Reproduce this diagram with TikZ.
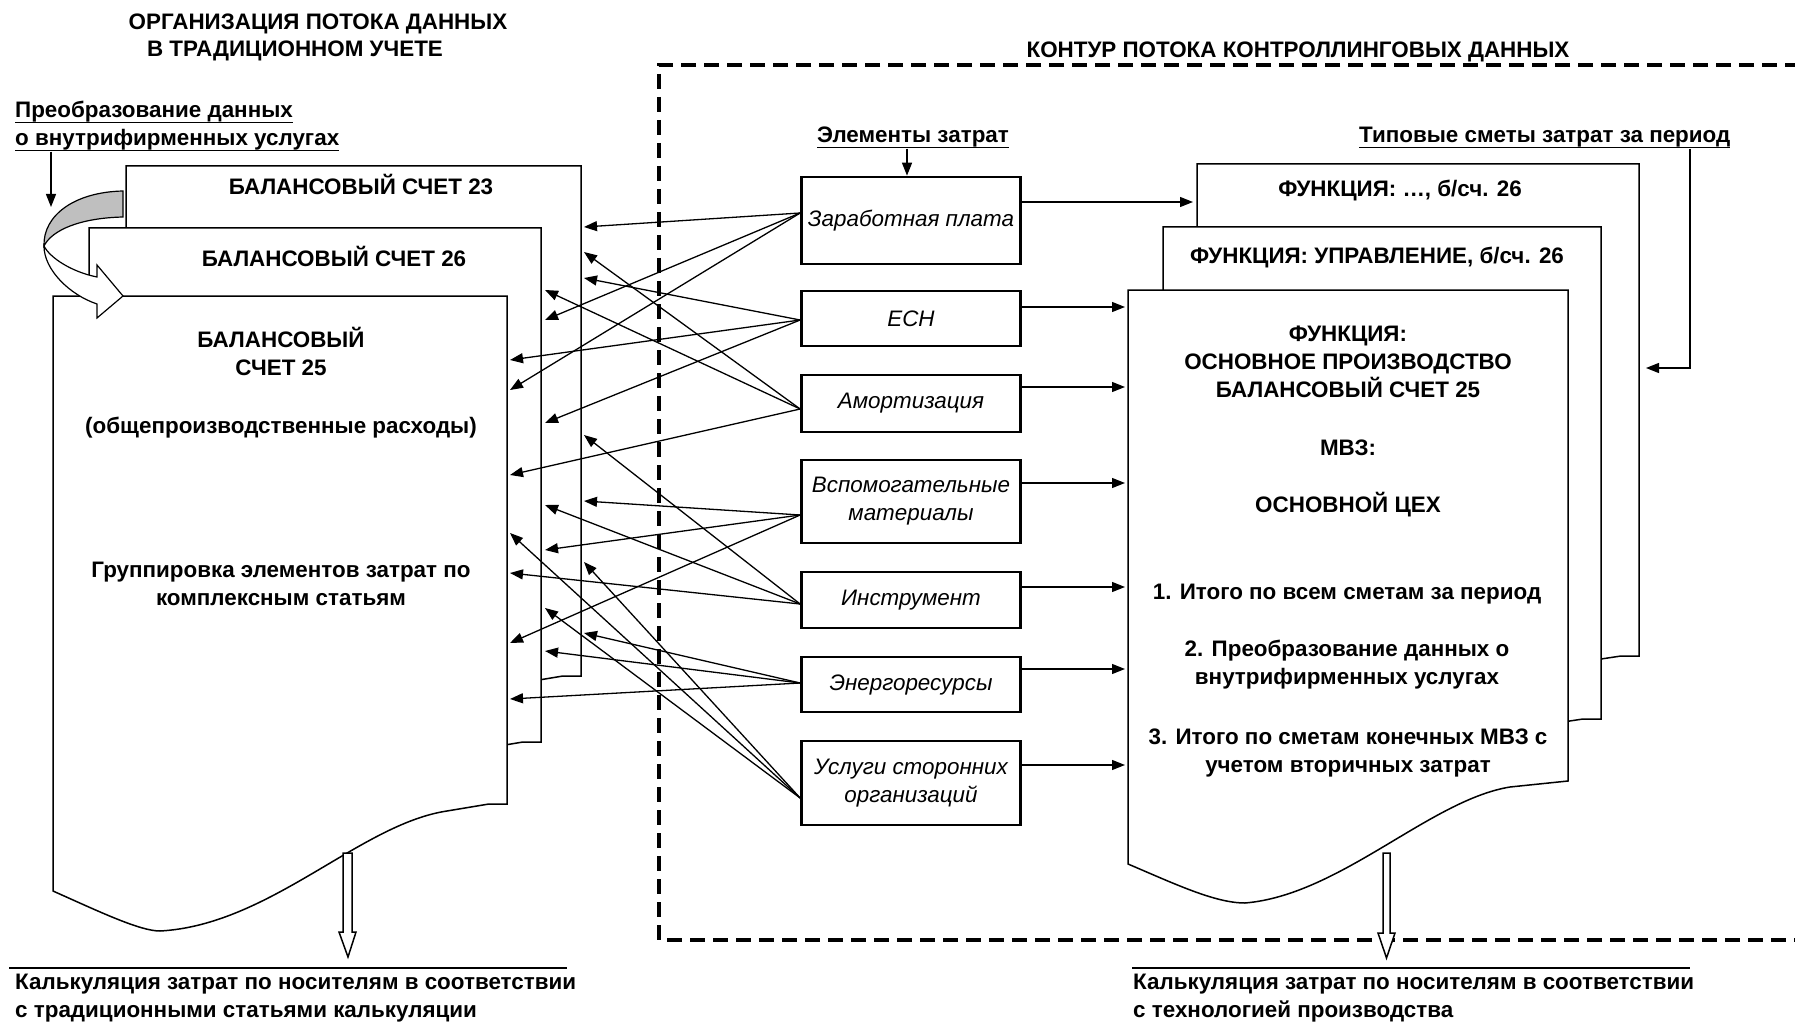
\documentclass[tikz,border=0pt]{standalone}
\usepackage{fontspec}
\setmainfont{Liberation Sans}
\usetikzlibrary{arrows.meta, calc, positioning}
\newsavebox{\ulbox}
\newcommand{\undl}[1]{\sbox{\ulbox}{#1}\rlap{\usebox{\ulbox}}\rule[-5.5pt]{\wd\ulbox}{1.8pt}}

\begin{document}
\begin{tikzpicture}[x=1pt, y=-1pt,
    >={Triangle[length=13pt, width=10pt]},
    node font=\fontsize{22.4}{28}\selectfont,
    doc/.style={draw, line width=1.5pt, fill=white},
    elbox/.style={draw, line width=2.7pt, minimum width=219pt, inner sep=0pt, align=center, font=\itshape},
    txt/.style={inner sep=0pt, align=center, font=\bfseries, anchor=base},
    conn/.style={->, line width=1.3pt},
    hollow/.style={draw, line width=1.5pt, fill=white},
    contour/.style={line width=3.6pt, dash pattern=on 15pt off 8pt}]
    \useasboundingbox (0,0) rectangle (1795,1024);

    % 1. Controlling contour and titles
    \draw[contour] (1800,65) -- (659,65) -- (659,940) -- (1800,940);
    \node[txt] (title1) at (318,30) {ОРГАНИЗАЦИЯ ПОТОКА ДАННЫХ};
    \node[txt] (title2) at (295,57) {В ТРАДИЦИОННОМ УЧЕТЕ};
    \node[txt] (kontur) at (1298,58) {КОНТУР ПОТОКА КОНТРОЛЛИНГОВЫХ ДАННЫХ};

    % 2. Traditional accounts (stacked documents)
    % account 23
    \draw[doc] (126,763) -- (126,166) -- (581,166) -- (581,676) -- (563,676) -- (521,683)
        .. controls (434,696) and (344,797) .. (234,803)
        .. controls (214,803) and (174,784) .. (126,763) -- cycle;
    % account 26
    \draw[doc] (89,829) -- (89,228) -- (541,228) -- (541,742) -- (523,742) -- (481,749)
        .. controls (394,762) and (304,863) .. (194,869)
        .. controls (174,869) and (134,850) .. (89,829) -- cycle;
    % account 25
    \draw[doc] (53,891) -- (53,296) -- (507,296) -- (507,804) -- (489,804) -- (447,811)
        .. controls (360,824) and (270,925) .. (160,931)
        .. controls (140,931) and (100,912) .. (53,891) -- cycle;
    \node[txt] (acc23) at (361,195) {БАЛАНСОВЫЙ СЧЕТ 23};
    \node[txt] (acc26) at (334,266) {БАЛАНСОВЫЙ СЧЕТ 26};
    \node[txt] (acc25) at (281,433) {БАЛАНСОВЫЙ\\СЧЕТ 25\\[30pt](общепроизводственные расходы)};
    \node[txt] (grp25) at (281,605) {Группировка элементов затрат по\\комплексным статьям};

    % curved arrow: internal services
    \filldraw[line width=1.2pt, fill=black!25] (123,191) .. controls (75,192) and (43,215) .. (44,246)
        .. controls (52,230) and (80,218) .. (123,217) -- cycle;
    \filldraw[line width=1.2pt, fill=white] (44,246) .. controls (44,270) and (70,295) .. (97,304)
        -- (97,318) -- (123,296) -- (97,265) -- (97,277)
        .. controls (72,272) and (50,258) .. (44,246) -- cycle;
    \node[txt, anchor=base west, align=left] (preob) at (15,146)
        {\undl{Преобразование данных}\\\undl{о внутрифирменных услугах}};
    \coordinate (twist) at (51,207);
    \draw[conn] (preob.south -| twist) -- (twist);

    % 3. Standard cost estimates (right documents)
    \draw[doc] (1197,737) -- (1197,164) -- (1639,164) -- (1639,656) -- (1621,656) -- (1581,662)
        .. controls (1496,675) and (1409,773) .. (1303,778)
        .. controls (1283,778) and (1244,759) .. (1197,737) -- cycle;
    \draw[doc] (1163,800) -- (1163,227) -- (1601,227) -- (1601,719) -- (1583,719) -- (1543,725)
        .. controls (1458,738) and (1371,836) .. (1265,841)
        .. controls (1245,841) and (1206,822) .. (1163,800) -- cycle;
    \draw[doc] (1128,864) -- (1128,290) -- (1568,290) -- (1568,781) -- (1510,787)
        .. controls (1430,800) and (1340,895) .. (1245,903)
        .. controls (1215,903) and (1175,884) .. (1128,864) -- cycle;
    \node[txt] (fnx) at (1400,197) {ФУНКЦИЯ: …, б/сч. 26};
    \node[txt] (fnupr) at (1377,263) {ФУНКЦИЯ: УПРАВЛЕНИЕ, б/сч. 26};
    \node[txt] (fnmain) at (1348,397) {ФУНКЦИЯ:\\ОСНОВНОЕ ПРОИЗВОДСТВО\\БАЛАНСОВЫЙ СЧЕТ 25};
    \node[txt] (mvz) at (1348,455) {МВЗ:};
    \node[txt] (ceh) at (1348,512) {ОСНОВНОЙ ЦЕХ};
    \node[txt] (sum1) at (1347,599) {1. Итого по всем сметам за период};
    \node[txt] (sum2) at (1347,684) {2. Преобразование данных о\\внутрифирменных услугах};
    \node[txt] (sum3) at (1348,772) {3. Итого по сметам конечных МВЗ с\\учетом вторичных затрат};

    \node[txt, anchor=base west] (tipov) at (1359,143) {\undl{Типовые сметы затрат за период}};
    \coordinate (tp-in) at (1646,368);
    \coordinate (tp-corner) at (1690,368);
    \draw[conn] (tipov.south -| tp-corner) -- (tp-corner) -- (tp-in);

    % 4. Cost elements
    \node[txt] (elem) at (913,143) {\undl{Элементы затрат}};
    \node[elbox, minimum height=87pt] (zp) at (911,220.5) {Заработная плата};
    \node[elbox, minimum height=55pt] (esn) at (911,318.5) {ЕСН};
    \node[elbox, minimum height=57pt] (am) at (911,403.5) {Амортизация};
    \node[elbox, minimum height=83pt] (vm) at (911,501.5) {Вспомогательные\\материалы};
    \node[elbox, minimum height=56pt] (ins) at (911,600) {Инструмент};
    \node[elbox, minimum height=55pt] (en) at (911,684.5) {Энергоресурсы};
    \node[elbox, minimum height=84pt] (us) at (911,783) {Услуги сторонних\\организаций};
    \draw[conn] (elem.south -| 907,0) -- (zp.north -| 907,0);

    % 5. Connectors: each element to each balance account
    \foreach \el/\ys/\ya/\yb/\yc in {zp/213/227/320/390, esn/320/278/423/360,
        am/409/252/290/475, vm/515/501/550/643, ins/604/435/505/573,
        en/683/633/651/699, us/798/562/608/533} {
        \coordinate (\el-src) at (\el.west |- 0,\ys);
        \coordinate (\el-23) at (584,\ya);
        \coordinate (\el-26) at (545,\yb);
        \coordinate (\el-25) at (510,\yc);
        \draw[conn] (\el-src) -- (\el-23);
        \draw[conn] (\el-src) -- (\el-26);
        \draw[conn] (\el-src) -- (\el-25);
    }

    % each element to the cost estimates
    \coordinate (zp-fn) at (1193,202);
    \draw[conn] (zp.east |- zp-fn) -- (zp-fn);
    \foreach \el/\yr in {esn/307, am/387, vm/483, ins/587, en/669, us/765} {
        \coordinate (\el-fn) at (1125,\yr);
        \draw[conn] (\el.east |- \el-fn) -- (\el-fn);
    }

    % 6. Output: costing
    \draw[hollow] (343,853) -- (343,932) -- (339,932) -- (348,957) -- (356,932) -- (352,932) -- (352,853) -- cycle;
    \draw[hollow] (1383,853) -- (1383,933) -- (1378,933) -- (1386.5,958) -- (1395,933) -- (1390,933) -- (1390,853) -- cycle;
    \draw[line width=2.2pt] (9,968) -- (567,968);
    \draw[line width=2.2pt] (1132,968) -- (1690,968);
    \node[txt, anchor=base west, align=left] (calcL) at (15,1017)
        {Калькуляция затрат по носителям в соответствии\\с традиционными статьями калькуляции};
    \node[txt, anchor=base west, align=left] (calcR) at (1133,1017)
        {Калькуляция затрат по носителям в соответствии\\с технологией производства};

\end{tikzpicture}
\end{document}
